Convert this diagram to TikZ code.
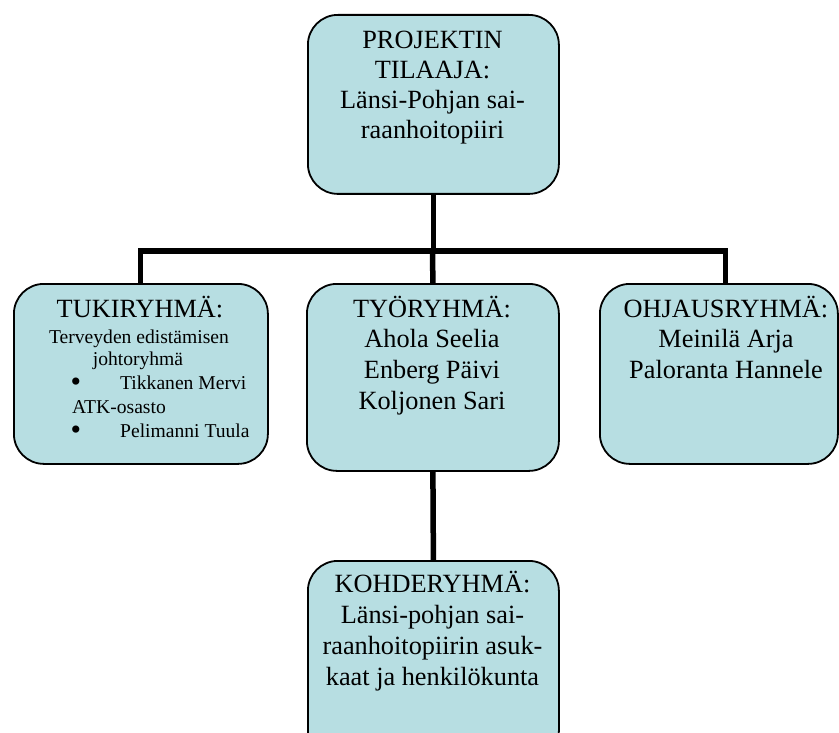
\documentclass[tikz,border=0pt]{standalone}
\usepackage{fontspec}
\setmainfont{Liberation Serif}
\definecolor{boxfill}{RGB}{183,222,226}
\begin{document}
\begin{tikzpicture}[x=1pt,y=-1pt,
  box/.style={draw=black,line width=1.8pt,fill=boxfill,rounded corners=30pt,
    inner sep=0pt,anchor=north west},
  conn/.style={draw=black,line width=5.5pt,line join=miter,line cap=butt},
  big/.style={anchor=base,inner sep=0pt,font=\fontsize{26.3}{30}\selectfont},
  small/.style={anchor=base,inner sep=0pt,font=\fontsize{19.6}{23}\selectfont},
  bullet/.style={anchor=base,inner sep=0pt,font=\fontsize{30}{30}\selectfont},
  smallw/.style={anchor=base west,inner sep=0pt,font=\fontsize{19.6}{23}\selectfont}]
\useasboundingbox (0,0) rectangle (839,733);
\clip (0,0) rectangle (839,733);
% boxes
\node[box,minimum width=251pt,minimum height=179pt] (top) at (307,14) {};
\node[box,minimum width=254pt,minimum height=180pt] (left) at (13,283) {};
\node[box,minimum width=252pt,minimum height=187pt] (mid) at (306,283) {};
\node[box,minimum width=238pt,minimum height=180pt] (right) at (599,283) {};
\node[box,minimum width=251pt,minimum height=200pt] (bot) at (307,560) {};
% connectors
\coordinate (bar) at (432.5,251);
\coordinate (rtop) at (725.5,283);
\draw[conn] (top.south) -- (top.south |- bar);
\draw[conn] ([xshift=-0.5pt]left.north) |- (bar) -| (rtop);
\draw[conn] (bar) -- (mid.north);
\draw[conn] (mid.south) -- (bot.north);
% top box text
\node[big] (t1) at (432.5,49) {PROJEKTIN};
\node[big] (t2) at (432.5,79) {TILAAJA:};
\node[big] (t3) at (432.5,109) {Länsi-Pohjan sai-};
\node[big] (t4) at (432.5,139) {raanhoitopiiri};
% left box text
\node[big] (l1) at (140,317) {TUKIRYHMÄ:};
\node[small] (l2) at (139,343) {Terveyden edistämisen};
\node[small] (l3) at (138,365) {johtoryhmä};
\node[bullet] (lb1) at (76,391) {•};
\node[smallw] (l4) at (120,389) {Tikkanen Mervi};
\node[smallw] (l5) at (72,413) {ATK-osasto};
\node[bullet] (lb2) at (76,439) {•};
\node[smallw] (l6) at (120,437) {Pelimanni Tuula};
% middle box text
\node[big] (m1) at (432,317) {TYÖRYHMÄ:};
\node[big] (m2) at (432,347) {Ahola Seelia};
\node[big] (m3) at (432,378) {Enberg Päivi};
\node[big] (m4) at (432,409) {Koljonen Sari};
% right box text
\node[big] (r1) at (726,317) {OHJAUSRYHMÄ:};
\node[big] (r2) at (726,347) {Meinilä Arja};
\node[big] (r3) at (726,378) {Paloranta Hannele};
% bottom box text
\node[big] (b1) at (432.5,592) {KOHDERYHMÄ:};
\node[big] (b2) at (432.5,623) {Länsi-pohjan sai-};
\node[big] (b3) at (432.5,654) {raanhoitopiirin asuk-};
\node[big] (b4) at (432.5,685) {kaat ja henkilökunta};
\end{tikzpicture}
\end{document}
